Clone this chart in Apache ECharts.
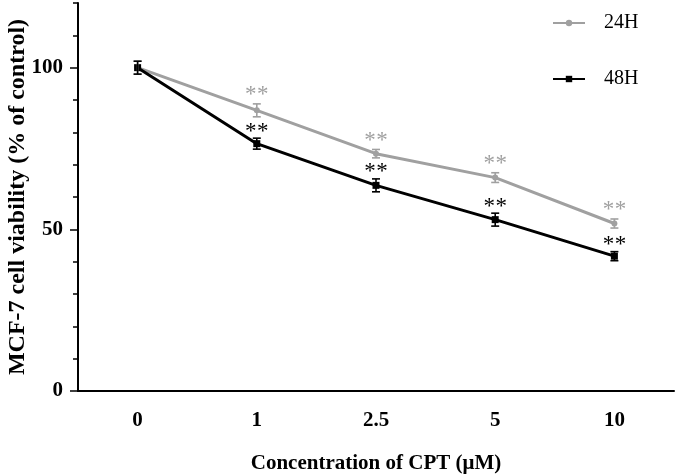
<!DOCTYPE html>
<html><head><meta charset="utf-8">
<script src="https://cdn.jsdelivr.net/npm/echarts@6/dist/echarts.min.js"></script>
<style>html,body{margin:0;padding:0;background:#fff}#c{width:680px;height:476px}</style>
</head><body><div id="c"></div>
<script>
const categories = ['0', '1', '2.5', '5', '10'];
const seriesNames = ['24H', '48H'];
const values24H = [100, 86.8, 73.4, 66.0, 51.8];
const errors24H = [2.0, 2.0, 1.3, 1.5, 1.4];
const values48H = [100, 76.5, 63.6, 53.0, 41.7];
const errors48H = [2.0, 1.7, 2.0, 2.0, 1.4];
const stars24H = ['', '**', '**', '**', '**'];
const stars48H = ['', '**', '**', '**', '**'];
const yLabelValues = [0, 50, 100];

const GREY = '#a0a0a0';
const BLACK = '#000000';
const FONT = '"Liberation Serif", "Times New Roman", serif';

function errItems(vals, errs, stars) {
  return vals.map((v, i) => [i, v, errs[i], stars[i]]);
}

function makeRender(color, stars, starLift) {
  return function (params, api) {
    const i = api.value(0), v = api.value(1), e = api.value(2);
    const top = api.coord([i, v + e]);
    const bot = api.coord([i, v - e]);
    const cw = 4;
    const st = { stroke: color, lineWidth: 1.6 };
    const children = [
      { type: 'line', shape: { x1: top[0], y1: top[1], x2: bot[0], y2: bot[1] }, style: st },
      { type: 'line', shape: { x1: top[0] - cw, y1: top[1], x2: top[0] + cw, y2: top[1] }, style: st },
      { type: 'line', shape: { x1: bot[0] - cw, y1: bot[1], x2: bot[0] + cw, y2: bot[1] }, style: st }
    ];
    const s = stars[params.dataIndex] || '';
    const n = s.length;
    for (let k = 0; k < n; k++) {
      children.push({
        type: 'text',
        style: {
          text: s[k], x: top[0] + (k - (n - 1) / 2) * 12, y: top[1] - starLift,
          fill: color, font: '23px ' + FONT, align: 'center', verticalAlign: 'middle'
        }
      });
    }
    return { type: 'group', children: children };
  };
}

const chart = echarts.init(document.getElementById('c'));
const axisLabelStyle = { color: '#000', fontFamily: FONT, fontWeight: 'bold', fontSize: 21 };
chart.setOption({
  animation: false,
  backgroundColor: '#fff',
  grid: { left: 78, right: 6, top: 3, bottom: 85, containLabel: false, outerBoundsMode: 'none' },
  legend: {
    data: seriesNames,
    orient: 'vertical', left: 547, top: 8,
    itemWidth: 32, itemHeight: 8, itemGap: 36,
    textStyle: { fontFamily: FONT, fontSize: 20, color: '#000', lineHeight: 20, padding: [0, 0, 0, 14] }
  },
  xAxis: {
    type: 'category', data: categories, boundaryGap: true,
    name: 'Concentration of CPT (μM)', nameLocation: 'middle', nameGap: 62, nameMoveOverlap: false,
    nameTextStyle: { color: '#000', fontFamily: FONT, fontWeight: 'bold', fontSize: 21 },
    axisLine: { lineStyle: { color: '#000', width: 2 } },
    axisTick: { alignWithLabel: true, length: 9, lineStyle: { color: '#000', width: 1.5 } },
    axisLabel: Object.assign({ margin: 19 }, axisLabelStyle),
    splitLine: { show: false }
  },
  yAxis: [{
    type: 'value', min: 0, max: 120, interval: 10,
    name: 'MCF-7 cell viability (% of control)', nameLocation: 'middle', nameGap: 48, nameMoveOverlap: false,
    nameTextStyle: { color: '#000', fontFamily: FONT, fontWeight: 'bold', fontSize: 24 },
    axisLine: { show: true, lineStyle: { color: '#000', width: 2 } },
    axisTick: { show: true, length: 5, lineStyle: { color: '#000', width: 1.5 } },
    axisLabel: Object.assign({ margin: 15, formatter: v => yLabelValues.indexOf(v) >= 0 ? String(v) : '' }, axisLabelStyle),
    splitLine: { show: false }
  }, {
    type: 'value', min: 0, max: 120, interval: 10, position: 'left',
    axisLine: { show: false },
    axisTick: { show: true, length: 8, customValues: yLabelValues, lineStyle: { color: '#000', width: 1.5 } },
    axisLabel: { show: false },
    splitLine: { show: false }
  }],
  series: [{
    name: '24H', type: 'line', data: values24H, yAxisIndex: 0,
    symbol: 'circle', symbolSize: 6,
    lineStyle: { color: GREY, width: 3 }, itemStyle: { color: GREY }, z: 2
  }, {
    name: '48H', type: 'line', data: values48H, yAxisIndex: 0,
    symbol: 'rect', symbolSize: 7,
    lineStyle: { color: BLACK, width: 3 }, itemStyle: { color: BLACK }, z: 3
  }, {
    type: 'custom', name: '24H err', yAxisIndex: 0, z: 4,
    data: errItems(values24H, errors24H, stars24H),
    renderItem: makeRender(GREY, stars24H, 9)
  }, {
    type: 'custom', name: '48H err', yAxisIndex: 0, z: 5,
    data: errItems(values48H, errors48H, stars48H),
    renderItem: makeRender(BLACK, stars48H, 6.5)
  }]
});
</script></body></html>
